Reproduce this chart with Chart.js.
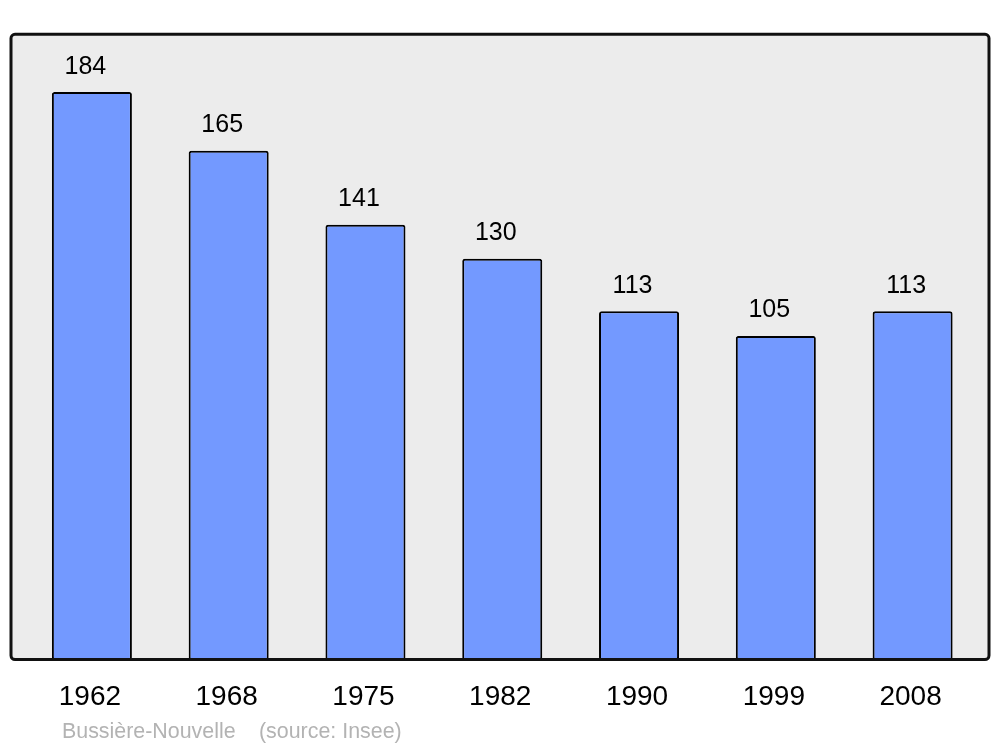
<!DOCTYPE html>
<html>
<head>
<meta charset="utf-8">
<script src="https://cdn.jsdelivr.net/npm/chart.js@4"></script>
<style>
  html, body { margin: 0; padding: 0; background: #fff; }
  #wrap { width: 1000px; height: 747px; }
</style>
</head>
<body>
<div id="wrap"><canvas id="popChart" width="1000" height="747"></canvas></div>
<script>
var years = ['1962', '1968', '1975', '1982', '1990', '1999', '2008'];
var population = [184, 165, 141, 130, 113, 105, 113];
var commune = 'Bussière-Nouvelle';
var source = '(source: Insee)';

// grey frame behind the bars, outline drawn after them
var framePlugin = {
    id: 'frame',
    beforeDatasetsDraw: function (chart) {
        var c = chart.ctx;
        c.save();
        c.beginPath();
        c.roundRect(11, 34.3, 978, 625.2, 4);
        c.fillStyle = '#ececec';
        c.fill();
        c.restore();
    },
    afterDatasetsDraw: function (chart) {
        var c = chart.ctx;
        var meta = chart.getDatasetMeta(0);
        c.save();
        c.font = '25px "Liberation Sans", Arial, sans-serif';
        c.fillStyle = '#000';
        c.textAlign = 'center';
        c.textBaseline = 'alphabetic';
        meta.data.forEach(function (bar, i) {
            c.fillText(population[i], bar.x - 6.5, bar.y - 18.5);
        });
        c.beginPath();
        c.roundRect(11, 34.3, 978, 625.2, 4);
        c.lineWidth = 3;
        c.strokeStyle = '#111';
        c.stroke();
        c.font = '21.4px "Liberation Sans", Arial, sans-serif';
        c.fillStyle = '#b3b3b3';
        c.textAlign = 'left';
        c.fillText(commune, 62, 738);
        c.fillText(source, 259, 738);
        c.restore();
    }
};

var ctx = document.getElementById('popChart').getContext('2d');
var popChart = new Chart(ctx, {
    type: 'bar',
    data: {
        labels: years,
        datasets: [{
            data: population,
            backgroundColor: '#7399ff',
            borderColor: '#000',
            borderWidth: 2,
            borderRadius: 2.5,
            borderSkipped: false,
            barPercentage: 0.585,
            categoryPercentage: 1
        }]
    },
    options: {
        responsive: false,
        animation: false,
        layout: { padding: { left: 23.5, right: 19, top: 34, bottom: 0 } },
        plugins: { legend: { display: false }, tooltip: { enabled: false } },
        scales: {
            x: {
                grid: { display: false, drawTicks: false },
                border: { display: false },
                ticks: {
                    color: '#000',
                    padding: 20,
                    labelOffset: -2,
                    font: { family: '"Liberation Sans", Arial, sans-serif', size: 28 }
                },
                afterFit: function (scale) { scale.height = 87; }
            },
            y: {
                display: false,
                min: 0,
                max: 202.8
            }
        }
    },
    plugins: [framePlugin]
});
</script>
</body>
</html>
